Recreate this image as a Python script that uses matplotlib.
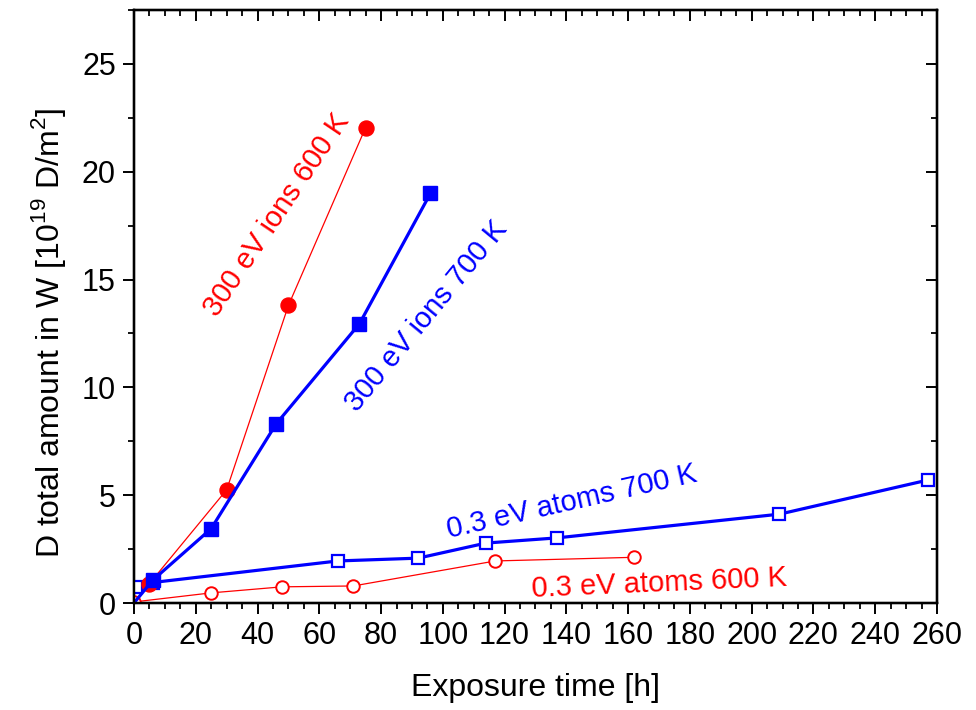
import matplotlib
matplotlib.use("Agg")
import matplotlib.pyplot as plt
from matplotlib.ticker import MultipleLocator

plt.rcParams['font.family'] = ['Liberation Sans', 'DejaVu Sans']
plt.rcParams['mathtext.fontset'] = 'custom'
plt.rcParams['mathtext.rm'] = 'Liberation Sans'

# 300 eV ions at 600 K
ions600_t = [0, 5, 30, 50, 75]
ions600_d = [0, 0.9, 5.25, 13.8, 22.05]
# 300 eV ions at 700 K
ions700_t = [0, 6, 25, 46, 73, 96]
ions700_d = [0, 1.05, 3.45, 8.3, 12.95, 19.0]
# 0.3 eV atoms at 700 K
atoms700_t = [0.5, 6, 66, 92, 114, 137, 209, 257]
atoms700_d = [0.74, 0.95, 1.95, 2.08, 2.78, 3.02, 4.12, 5.7]
# 0.3 eV atoms at 600 K
atoms600_t = [0, 25, 48, 71, 117, 162]
atoms600_d = [0.05, 0.47, 0.75, 0.79, 1.95, 2.12]

x_ticks = list(range(0, 261, 20))
y_ticks = [0, 5, 10, 15, 20, 25]

RED = '#ff0000'
BLUE = '#0000ff'
FS_TICK = 22
FS_LABEL = 23
FS_NOTE = 21

fig = plt.figure(figsize=(9.76, 7.10), dpi=100)
ax = fig.add_axes([0.1373, 0.1507, 0.8227, 0.8352])

ax.plot(atoms600_t, atoms600_d, color=RED, lw=0.9, marker='o', ms=9,
        mfc='white', mec=RED, mew=1.4, zorder=3)
ax.plot(atoms700_t, atoms700_d, color=BLUE, lw=2.3, marker='s', ms=8.5,
        mfc='white', mec=BLUE, mew=1.6, zorder=4)
ax.plot(ions700_t, ions700_d, color=BLUE, lw=2.3, marker='s', ms=9.5,
        mfc=BLUE, mec=BLUE, markevery=slice(1, None), zorder=5)
ax.plot(ions600_t, ions600_d, color=RED, lw=0.9, marker='o', ms=10.8,
        mfc=RED, mec=RED, markevery=slice(1, None), zorder=4)

ax.set_xlim(0, 260)
ax.set_ylim(0, 27.5)
ax.set_xticks(x_ticks)
ax.set_yticks(y_ticks)
ax.xaxis.set_minor_locator(MultipleLocator(5))
ax.yaxis.set_minor_locator(MultipleLocator(2.5))

for s in ax.spines.values():
    s.set_linewidth(1.6)
ax.tick_params(which='major', direction='out', length=8, width=1.4,
               labelsize=FS_TICK, pad=5)
ax.tick_params(which='minor', direction='out', length=4.5, width=1.3)

# mirrored inward ticks on the top and right spines
axt = ax.twiny()
axt.set_xlim(ax.get_xlim())
axt.set_xticks(x_ticks)
axt.xaxis.set_minor_locator(MultipleLocator(5))
axt.tick_params(which='major', direction='in', length=8, width=1.4, labeltop=False)
axt.tick_params(which='minor', direction='in', length=4.5, width=1.3)
axr = ax.twinx()
axr.set_ylim(ax.get_ylim())
axr.set_yticks(y_ticks)
axr.yaxis.set_minor_locator(MultipleLocator(2.5))
axr.tick_params(which='major', direction='in', length=8, width=1.4, labelright=False)
axr.tick_params(which='minor', direction='in', length=4.5, width=1.3)
for a in (axt, axr):
    for s in a.spines.values():
        s.set_linewidth(1.6)

ax.set_xlabel('Exposure time [h]', fontsize=FS_LABEL, labelpad=16)
ax.set_ylabel(r'D total amount in W [10$^{19}$ D/m$^{2}$]', fontsize=FS_LABEL, labelpad=10)
ax.yaxis.label.set_y(0.455)

ax.text(46.3, 18.0, '300 eV ions 600 K', color=RED, fontsize=FS_NOTE,
        rotation=56, ha='center', va='center', rotation_mode='anchor')
ax.text(94.8, 13.3, '300 eV ions 700 K', color=BLUE, fontsize=FS_NOTE,
        rotation=50.5, ha='center', va='center', rotation_mode='anchor')
ax.text(141.8, 4.70, '0.3 eV atoms 700 K', color=BLUE, fontsize=FS_NOTE,
        rotation=12.8, ha='center', va='center', rotation_mode='anchor')
ax.text(170.2, 0.93, '0.3 eV atoms 600 K', color=RED, fontsize=FS_NOTE,
        rotation=2.5, ha='center', va='center', rotation_mode='anchor')

fig.savefig('out.png', dpi=100)
